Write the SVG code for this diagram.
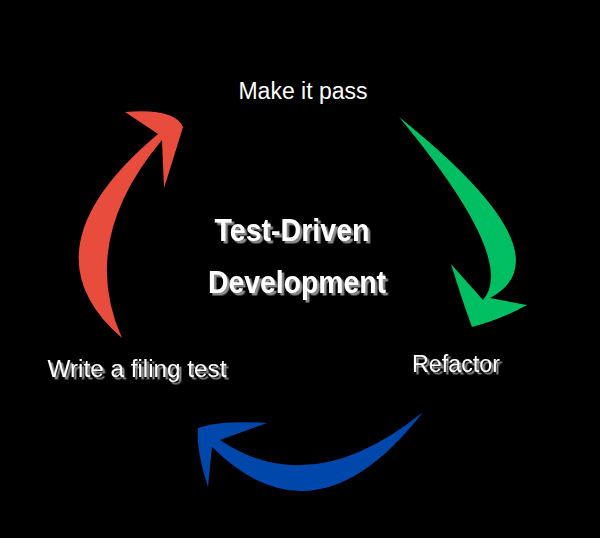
<svg xmlns="http://www.w3.org/2000/svg" width="600" height="538" viewBox="0 0 600 538">
<defs>
<filter id="sh" x="-10%" y="-20%" width="130%" height="150%"><feDropShadow dx="2.5" dy="2.5" stdDeviation="0.6" flood-color="#8a8a8a" flood-opacity="1"/></filter>
</defs>
<style>
text{font-family:"Liberation Sans",Arial,sans-serif;fill:#fff;text-anchor:middle}
.s{filter:url(#sh)}
</style>
<rect width="600" height="538" fill="#000"/>
<g id="connectors">
<path id="red" fill="#e74c3c" d="M122,338 Q20,250 158,134 L125,112 Q175,108 183,127 Q176,150 164,188 L162,140 Q78,240 122,338 Z"/>
<path id="green" fill="#00bf63" d="M399,117 Q571,255 490,298 L527,305 Q500,320 472,327 Q462,300 451,264 L483,300 Q518,260 399,117 Z"/>
<path id="blue" fill="#0047ab" d="M423,412 Q316,550 212,447 L208,487 Q196,450 198,428 Q220,420 267,423 L220,440 Q312,502 423,412 Z"/>
</g>
<g id="make"><text x="303" y="99" font-size="23">Make it pass</text></g>
<g id="refactor"><text class="s" x="456" y="372" font-size="23" textLength="88" lengthAdjust="spacingAndGlyphs">Refactor</text></g>
<g id="write"><text class="s" x="137" y="377" font-size="23" textLength="179" lengthAdjust="spacingAndGlyphs">Write a filing test</text></g>
<g id="title">
<text class="s" x="292" y="241" font-size="31" font-weight="bold" textLength="155" lengthAdjust="spacingAndGlyphs">Test-Driven</text>
<text class="s" x="297" y="293" font-size="31" font-weight="bold" textLength="178" lengthAdjust="spacingAndGlyphs">Development</text>
</g>
</svg>
